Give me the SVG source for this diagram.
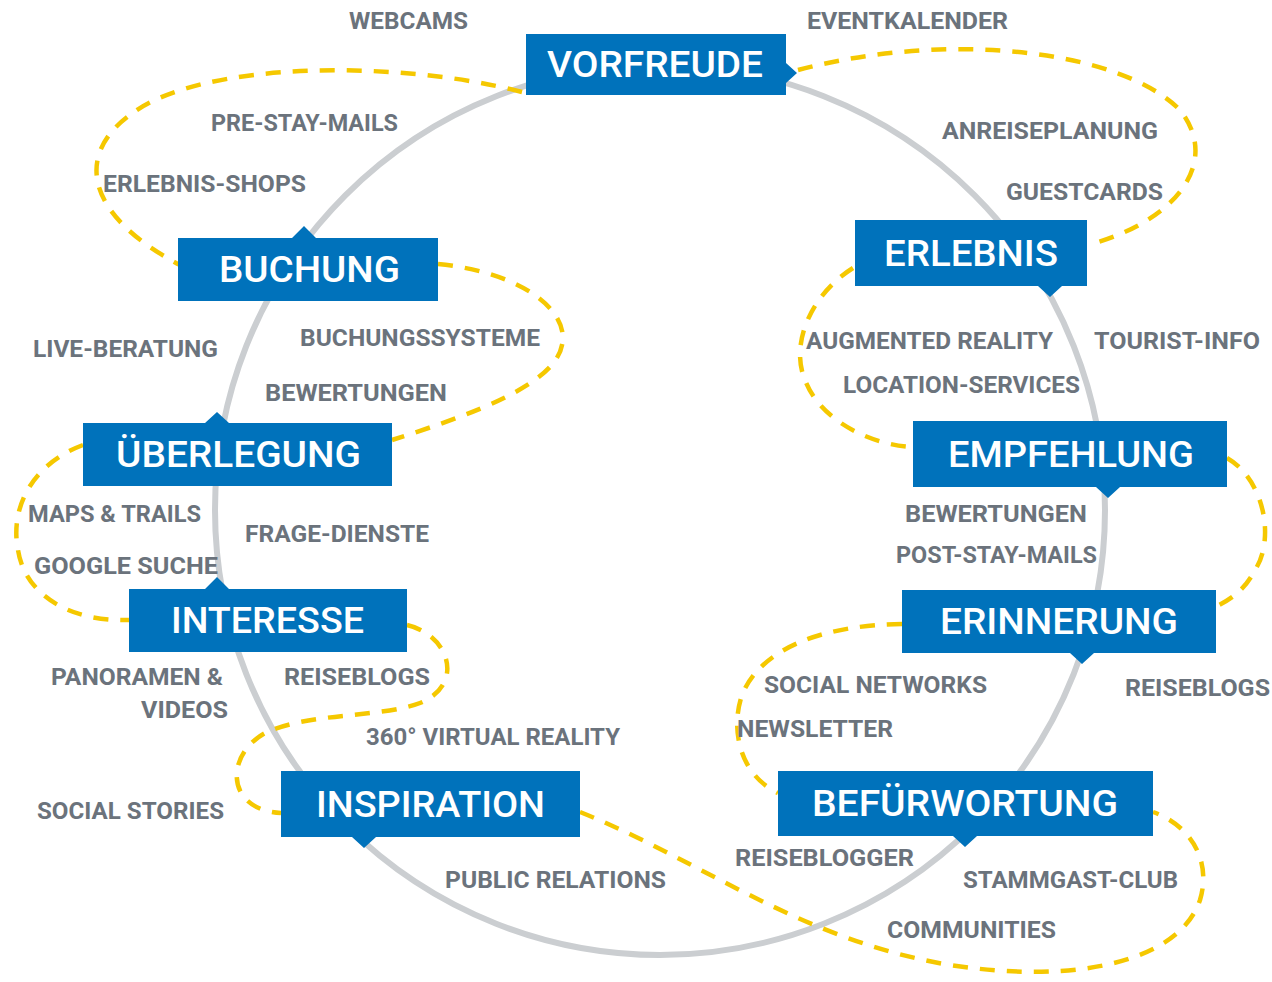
<svg xmlns="http://www.w3.org/2000/svg" width="1272" height="982" viewBox="0 0 1272 982">
<style>
.ring{fill:none;stroke:#cbced1;stroke-width:6}
.loop{fill:none;stroke:#f5c800;stroke-width:4.5;stroke-dasharray:15 12;stroke-linecap:butt}
.box{fill:#0072bb}
.bl{font-family:Roboto,"Liberation Sans",sans-serif;font-weight:500;font-size:36px;fill:#ffffff}
.lb{font-family:Roboto,"Liberation Sans",sans-serif;font-weight:700;font-size:23.5px;fill:#6b737c}
</style>
<rect width="1272" height="982" fill="#ffffff"/>
<g id="connectors">
<circle class="ring" cx="660" cy="510" r="445"/>
<path class="loop" d="M522 92 C400 60 200 60 130 115 C75 155 85 215 180 265"/>
<path class="loop" d="M798 70 C950 30 1120 50 1180 110 C1220 160 1180 220 1088 245"/>
<path class="loop" d="M438 264 C520 272 570 310 562 345 C555 385 470 415 392 440"/>
<path class="loop" d="M853 268 C810 295 790 345 805 380 C820 420 870 445 913 447"/>
<path class="loop" d="M83 445 C30 465 10 510 18 550 C25 595 70 622 129 620"/>
<path class="loop" d="M1227 458 C1265 480 1275 540 1255 570 C1245 590 1230 600 1215 607"/>
<path class="loop" d="M407 625 C450 635 465 685 420 703 C380 718 310 712 265 733 C225 755 225 810 281 813"/>
<path class="loop" d="M580 812 C700 860 800 940 950 965 C1080 985 1180 960 1200 900 C1212 860 1190 825 1153 812"/>
<path class="loop" d="M902 624 C820 625 760 650 742 695 C730 730 740 775 778 793"/>
</g>
<g id="vorfreude"><path class="box" d="M526 34 H786 V63 L797 73 L786 83 V95 H526 Z"/><text class="bl" x="547" y="77" textLength="216" lengthAdjust="spacingAndGlyphs">VORFREUDE</text></g>
<g id="buchung"><path class="box" d="M178 238 H292 L304 226 L316 238 H438 V301 H178 Z"/><text class="bl" x="219" y="282" textLength="181" lengthAdjust="spacingAndGlyphs">BUCHUNG</text></g>
<g id="erlebnis"><path class="box" d="M855 220 H1087 V286 H1062 L1050 297 L1038 286 H855 Z"/><text class="bl" x="884" y="266" textLength="174" lengthAdjust="spacingAndGlyphs">ERLEBNIS</text></g>
<g id="ueberlegung"><path class="box" d="M83 423 H205 L217 412 L229 423 H392 V486 H83 Z"/><text class="bl" x="116" y="467" textLength="245" lengthAdjust="spacingAndGlyphs">ÜBERLEGUNG</text></g>
<g id="interesse"><path class="box" d="M129 589 H205 L217 577 L229 589 H407 V652 H129 Z"/><text class="bl" x="171" y="633" textLength="193" lengthAdjust="spacingAndGlyphs">INTERESSE</text></g>
<g id="inspiration"><path class="box" d="M281 771 H580 V837 H376 L364 848 L352 837 H281 Z"/><text class="bl" x="316" y="817" textLength="229" lengthAdjust="spacingAndGlyphs">INSPIRATION</text></g>
<g id="empfehlung"><path class="box" d="M913 421 H1227 V487 H1120 L1108 498 L1096 487 H913 Z"/><text class="bl" x="948" y="467" textLength="246" lengthAdjust="spacingAndGlyphs">EMPFEHLUNG</text></g>
<g id="erinnerung"><path class="box" d="M902 590 H1216 V653 H1094 L1082 664 L1070 653 H902 Z"/><text class="bl" x="940" y="634" textLength="238" lengthAdjust="spacingAndGlyphs">ERINNERUNG</text></g>
<g id="befuerwortung"><path class="box" d="M778 771 H1153 V836 H977 L965 847 L953 836 H778 Z"/><text class="bl" x="812" y="816" textLength="306" lengthAdjust="spacingAndGlyphs">BEFÜRWORTUNG</text></g>
<g id="labels">
<text class="lb" x="349" y="29" textLength="119" lengthAdjust="spacingAndGlyphs">WEBCAMS</text>
<text class="lb" x="807" y="29" textLength="201" lengthAdjust="spacingAndGlyphs">EVENTKALENDER</text>
<text class="lb" x="211" y="131" textLength="187" lengthAdjust="spacingAndGlyphs">PRE-STAY-MAILS</text>
<text class="lb" x="103" y="192" textLength="203" lengthAdjust="spacingAndGlyphs">ERLEBNIS-SHOPS</text>
<text class="lb" x="942" y="139" textLength="216" lengthAdjust="spacingAndGlyphs">ANREISEPLANUNG</text>
<text class="lb" x="1006" y="200" textLength="157" lengthAdjust="spacingAndGlyphs">GUESTCARDS</text>
<text class="lb" x="33" y="357" textLength="185" lengthAdjust="spacingAndGlyphs">LIVE-BERATUNG</text>
<text class="lb" x="300" y="346" textLength="240" lengthAdjust="spacingAndGlyphs">BUCHUNGSSYSTEME</text>
<text class="lb" x="265" y="401" textLength="182" lengthAdjust="spacingAndGlyphs">BEWERTUNGEN</text>
<text class="lb" x="806" y="349" textLength="247" lengthAdjust="spacingAndGlyphs">AUGMENTED REALITY</text>
<text class="lb" x="1094" y="349" textLength="166" lengthAdjust="spacingAndGlyphs">TOURIST-INFO</text>
<text class="lb" x="843" y="393" textLength="237" lengthAdjust="spacingAndGlyphs">LOCATION-SERVICES</text>
<text class="lb" x="28" y="522" textLength="173" lengthAdjust="spacingAndGlyphs">MAPS &amp; TRAILS</text>
<text class="lb" x="245" y="542" textLength="184" lengthAdjust="spacingAndGlyphs">FRAGE-DIENSTE</text>
<text class="lb" x="34" y="574" textLength="184" lengthAdjust="spacingAndGlyphs">GOOGLE SUCHE</text>
<text class="lb" x="905" y="522" textLength="182" lengthAdjust="spacingAndGlyphs">BEWERTUNGEN</text>
<text class="lb" x="896" y="563" textLength="201" lengthAdjust="spacingAndGlyphs">POST-STAY-MAILS</text>
<text class="lb" x="51" y="685" textLength="172" lengthAdjust="spacingAndGlyphs">PANORAMEN &amp;</text>
<text class="lb" x="141" y="718" textLength="87" lengthAdjust="spacingAndGlyphs">VIDEOS</text>
<text class="lb" x="284" y="685" textLength="146" lengthAdjust="spacingAndGlyphs">REISEBLOGS</text>
<text class="lb" x="366" y="745" textLength="254" lengthAdjust="spacingAndGlyphs">360° VIRTUAL REALITY</text>
<text class="lb" x="37" y="819" textLength="187" lengthAdjust="spacingAndGlyphs">SOCIAL STORIES</text>
<text class="lb" x="445" y="888" textLength="221" lengthAdjust="spacingAndGlyphs">PUBLIC RELATIONS</text>
<text class="lb" x="764" y="693" textLength="223" lengthAdjust="spacingAndGlyphs">SOCIAL NETWORKS</text>
<text class="lb" x="737" y="737" textLength="156" lengthAdjust="spacingAndGlyphs">NEWSLETTER</text>
<text class="lb" x="1125" y="696" textLength="145" lengthAdjust="spacingAndGlyphs">REISEBLOGS</text>
<text class="lb" x="735" y="866" textLength="179" lengthAdjust="spacingAndGlyphs">REISEBLOGGER</text>
<text class="lb" x="963" y="888" textLength="215" lengthAdjust="spacingAndGlyphs">STAMMGAST-CLUB</text>
<text class="lb" x="887" y="938" textLength="169" lengthAdjust="spacingAndGlyphs">COMMUNITIES</text>
</g>
</svg>
